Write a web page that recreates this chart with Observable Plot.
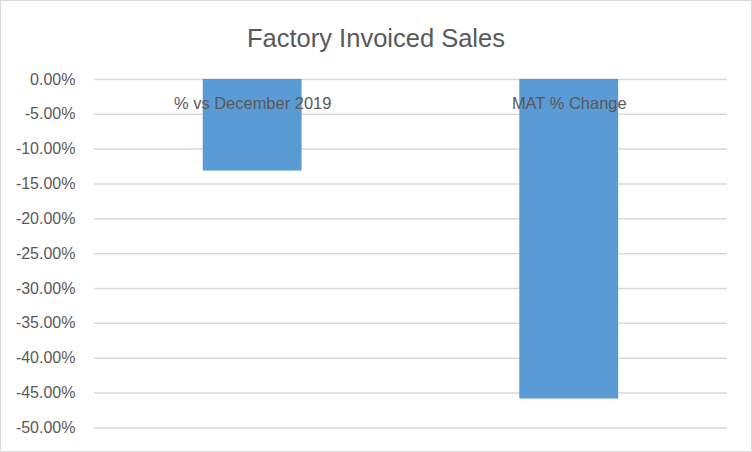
<!DOCTYPE html>
<html>
<head>
<meta charset="utf-8">
<script src="https://cdn.jsdelivr.net/npm/d3@7"></script>
<script src="https://cdn.jsdelivr.net/npm/@observablehq/plot@0.6"></script>
<style>
  html, body { margin: 0; padding: 0; background: #fff; }
  #chart { position: relative; width: 752px; height: 452px; box-sizing: border-box; border: 1px solid #d9d9d9; background: #fff; overflow: hidden; }
  #title { position: absolute; top: 22px; left: 0; width: 100%; text-align: center; font-family: "Liberation Sans", Arial, sans-serif; font-size: 25.5px; color: #595959; line-height: 30px; }
  #plot { position: absolute; top: -1px; left: -1px; }
</style>
</head>
<body>
<div id="chart">
  <div id="title">Factory Invoiced Sales</div>
  <div id="plot"></div>
</div>
<script>
const categories = ["% vs December 2019", "MAT % Change"];
const values = [-0.1315, -0.4586];
const yTicks = [0, -0.05, -0.10, -0.15, -0.20, -0.25, -0.30, -0.35, -0.40, -0.45, -0.50];

const data = categories.map((c, i) => ({category: c, value: values[i]}));
const fmt = d => (Math.abs(d) < 1e-9 ? "0.00%" : (d * 100).toFixed(2) + "%");

const chart = Plot.plot({
  width: 752,
  height: 452,
  marginTop: 79,
  marginBottom: 24,
  marginLeft: 94,
  marginRight: 24,
  style: {fontFamily: "'Liberation Sans', Arial, sans-serif", fontSize: "16px", color: "#595959", background: "transparent"},
  x: {type: "band", domain: categories, paddingInner: 0.688, paddingOuter: 0.344, axis: null},
  y: {domain: [-0.5, 0], ticks: yTicks, tickFormat: fmt, tickSize: 0, tickPadding: 19, label: null},
  marks: [
    Plot.ruleY(yTicks, {stroke: "#d9d9d9", strokeWidth: 1.5}),
    Plot.barY(data, {x: "category", y1: 0, y2: "value", fill: "#5b9bd5"}),
    Plot.text(data, {x: "category", y: () => 0, dy: 24, text: "category", fill: "#595959", fontSize: 16.5})
  ]
});
document.getElementById("plot").appendChild(chart);
</script>
</body>
</html>
